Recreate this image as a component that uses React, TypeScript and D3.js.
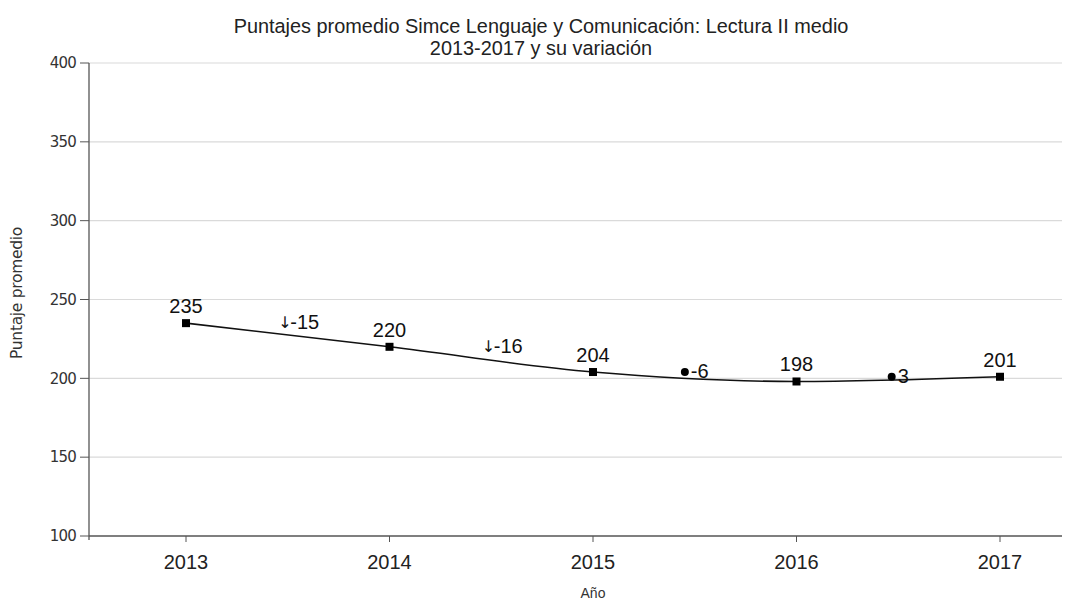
import React from "react";
import * as d3 from "d3";

const years = ["2013", "2014", "2015", "2016", "2017"];
const scores = [235, 220, 204, 198, 201];
const variations = ["-15", "-16", "-6", "3"];
const variationSymbols = ["arrow", "arrow", "dot", "dot"];
const yTicks = [100, 150, 200, 250, 300, 350, 400];
const titleLines = [
  "Puntajes promedio Simce Lenguaje y Comunicación: Lectura II medio",
  "2013-2017 y su variación",
];
const xTitle = "Año";
const yTitle = "Puntaje promedio";

const W = 1076;
const H = 603;
const left = 89;
const right = 1062;
const top = 63;
const bottom = 536;

// approximate Arial widths (em) for digits and minus sign
function textWidth(s: string, fs: number) {
  let w = 0;
  for (const c of s) w += c === "-" ? 0.333 : 0.556;
  return w * fs;
}

export default function App() {
  const x = d3.scalePoint<string>().domain(years).range([186, 1000]);
  const y = d3.scaleLinear().domain([100, 400]).range([bottom, top]);
  const pts: [number, number][] = scores.map((v, i) => [x(years[i])!, y(v)]);
  const line = d3.line<[number, number]>().curve(d3.curveMonotoneX)(pts) || "";
  const font = "Liberation Sans, Arial, sans-serif";
  const lblFs = 20;

  return (
    <svg
      width={W}
      height={H}
      style={{ position: "absolute", left: 0, top: 0, background: "#fff" }}
      fontFamily={font}
    >
      <rect width={W} height={H} fill="#fff" />
      {titleLines.map((t, i) => (
        <text key={i} x={541} y={33 + i * 22} textAnchor="middle" fontSize={19.9} fill="#222">
          {t}
        </text>
      ))}
      {yTicks.map((t) => (
        <g key={t}>
          {t !== 100 && (
            <line x1={left} x2={right} y1={y(t)} y2={y(t)} stroke="#dadada" strokeWidth={1.2} />
          )}
          <line x1={left - 9} x2={left} y1={y(t)} y2={y(t)} stroke="#555" strokeWidth={1} />
          <text
            x={left - 13}
            y={y(t)}
            dy="0.35em"
            textAnchor="end"
            fontSize={15}
            fontFamily="DejaVu Sans, sans-serif"
            fill="#333"
            letterSpacing={-0.8}
          >
            {t}
          </text>
        </g>
      ))}
      <line x1={left} x2={left} y1={top} y2={bottom + 4} stroke="#555" strokeWidth={1.3} />
      <line x1={left} x2={right} y1={bottom} y2={bottom} stroke="#555" strokeWidth={1.3} />
      {years.map((yr) => (
        <g key={yr}>
          <line x1={x(yr)!} x2={x(yr)!} y1={bottom} y2={bottom + 6} stroke="#555" strokeWidth={1} />
          <text x={x(yr)!} y={bottom + 33} textAnchor="middle" fontSize={20} fill="#222">
            {yr}
          </text>
        </g>
      ))}
      <text x={593} y={598} textAnchor="middle" fontSize={14} fill="#333">
        {xTitle}
      </text>
      <text
        transform={`translate(22, 293) rotate(-90)`}
        textAnchor="middle"
        fontSize={15.5}
        fontFamily="DejaVu Sans, sans-serif"
        fill="#333"
        letterSpacing={-0.3}
      >
        {yTitle}
      </text>
      <path d={line} fill="none" stroke="#111" strokeWidth={1.6} />
      {pts.map(([px, py], i) => (
        <g key={i}>
          <rect x={px - 4} y={py - 4} width={8} height={8} fill="#000" />
          <text x={px} y={py - 10} textAnchor="middle" fontSize={lblFs} fill="#111">
            {scores[i]}
          </text>
        </g>
      ))}
      {variations.map((v, i) => {
        const mx = (pts[i][0] + pts[i + 1][0]) / 2;
        const my = y(Math.max(scores[i], scores[i + 1])) + 6;
        const tw = textWidth(v, lblFs);
        if (variationSymbols[i] === "arrow") {
          const symW = 12;
          const start = mx + 11 - (symW + tw) / 2;
          return (
            <g key={i}>
              <text
                x={start}
                y={my - 1}
                fontSize={16}
                fontFamily="DejaVu Sans, sans-serif"
                fill="#111"
              >
                ↓
              </text>
              <text x={start + symW} y={my} fontSize={lblFs} fill="#111">
                {v}
              </text>
            </g>
          );
        }
        const symW = 10;
        const start = mx - (symW + tw) / 2;
        return (
          <g key={i}>
            <circle cx={start + 4} cy={my - 6} r={4} fill="#000" />
            <text x={start + symW} y={my} fontSize={lblFs} fill="#111">
              {v}
            </text>
          </g>
        );
      })}
    </svg>
  );
}
